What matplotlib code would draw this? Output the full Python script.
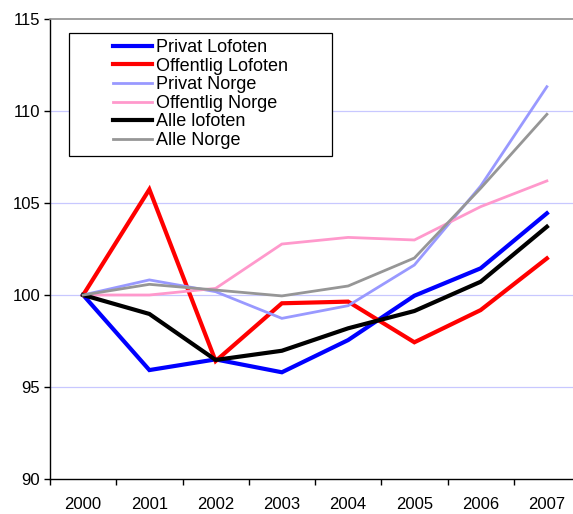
import matplotlib
matplotlib.use("Agg")
import matplotlib.pyplot as plt
from matplotlib.patches import Rectangle
from matplotlib.ticker import FixedLocator, NullFormatter

plt.rcParams['font.family'] = ['Liberation Sans', 'DejaVu Sans']

years = ['2000', '2001', '2002', '2003', '2004', '2005', '2006', '2007']
privat_lofoten = [100, 95.92, 96.5, 95.8, 97.55, 99.96, 101.45, 104.44]
offentlig_lofoten = [100, 105.74, 96.41, 99.55, 99.64, 97.43, 99.18, 101.99]
privat_norge = [100, 100.82, 100.18, 98.73, 99.42, 101.63, 105.92, 111.32]
offentlig_norge = [100, 100.0, 100.36, 102.77, 103.13, 102.99, 104.8, 106.2]
alle_lofoten = [100, 98.97, 96.47, 96.97, 98.19, 99.13, 100.72, 103.71]
alle_norge = [100, 100.58, 100.27, 99.95, 100.49, 102.01, 105.8, 109.82]

series = [
    ('Privat Lofoten', privat_lofoten, '#0000ff', 3.0),
    ('Offentlig Lofoten', offentlig_lofoten, '#ff0000', 3.0),
    ('Privat Norge', privat_norge, '#9999ff', 2.0),
    ('Offentlig Norge', offentlig_norge, '#ff99cc', 2.0),
    ('Alle lofoten', alle_lofoten, '#000000', 3.0),
    ('Alle Norge', alle_norge, '#969696', 2.0),
]

W, H = 573, 514
fig = plt.figure(figsize=(W / 100, H / 100), dpi=100)
ax = fig.add_axes([50 / W, 35 / H, 530 / W, 460 / H])

x = list(range(len(years)))
handles = []
for name, vals, col, lw in series:
    ln, = ax.plot(x, vals, color=col, lw=lw, label=name, solid_joinstyle='miter', zorder=3)
    handles.append(ln)

ax.set_xlim(-0.5, len(years) - 0.5)
ax.set_ylim(90, 115)
ax.set_yticks([90, 95, 100, 105, 110, 115])
for yv in [95, 100, 105, 110]:
    ax.axhline(yv, color='#c8c8ff', lw=0.9, zorder=1)

ax.xaxis.set_major_locator(FixedLocator([i - 0.5 for i in range(len(years) + 1)]))
ax.xaxis.set_major_formatter(NullFormatter())
ax.xaxis.set_minor_locator(FixedLocator(x))
ax.set_xticklabels(years, minor=True)
ax.tick_params(axis='x', which='major', length=4, width=1, color='#000000', direction='out')
ax.tick_params(axis='x', which='minor', length=0, pad=13, labelsize=12)
ax.tick_params(axis='y', length=4, width=1, direction='out', pad=3, labelsize=12)

for s in ['left', 'bottom']:
    ax.spines[s].set_color('#000000')
    ax.spines[s].set_linewidth(1.0)
ax.spines['top'].set_color('#909090')
ax.spines['top'].set_linewidth(1.2)
ax.spines['right'].set_color('#909090')

# legend frame
fig.patches.append(Rectangle((69 / W, 1 - 156 / H), 263 / W, 123 / H, transform=fig.transFigure,
                             facecolor='white', edgecolor='black', lw=0.9, zorder=3))
fig.legend(handles=handles, loc='upper left', bbox_to_anchor=(113 / W, 1 - 39 / H),
           bbox_transform=fig.transFigure, frameon=False, fontsize=13, borderpad=0,
           borderaxespad=0, handlelength=2.16, handletextpad=0.22, labelspacing=0.09)

fig.savefig('out.png', dpi=100)
